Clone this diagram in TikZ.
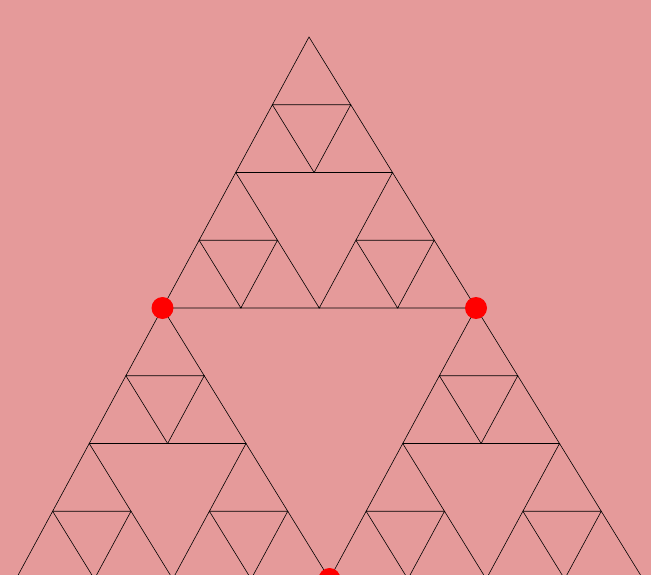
\documentclass[tikz,border=0pt]{standalone}
\usetikzlibrary{calc}
\definecolor{bgpink}{RGB}{229,154,154}
\tikzset{
  tri/.style={draw=black,line width=0.6pt,line join=miter},
  dot/.style={circle,fill=red,draw=none,inner sep=0pt,minimum size=22pt}
}
\begin{document}
\begin{tikzpicture}[x=1pt,y=-1pt]
\fill[bgpink] (0,0) rectangle (651,575);
\useasboundingbox (0,0) rectangle (651,575);
\clip (0,0) rectangle (651,575);
\coordinate (V1) at (309,37);
\coordinate (V2) at (16,579);
\coordinate (V3) at (643,579);
\foreach \a in {1,2,3}{
  \foreach \b in {1,2,3}{
    \foreach \c in {1,2,3}{
      \draw[tri] ($0.5*(V\a)+0.25*(V\b)+0.125*(V\c)+0.125*(V1)$)
        -- ($0.5*(V\a)+0.25*(V\b)+0.125*(V\c)+0.125*(V2)$)
        -- ($0.5*(V\a)+0.25*(V\b)+0.125*(V\c)+0.125*(V3)$) -- cycle;
    }
  }
}
\node[dot] (m12) at ($(V1)!0.5!(V2)$) {};
\node[dot] (m13) at ($(V1)!0.5!(V3)$) {};
\node[dot] (m23) at ($(V2)!0.5!(V3)$) {};
\end{tikzpicture}
\end{document}
